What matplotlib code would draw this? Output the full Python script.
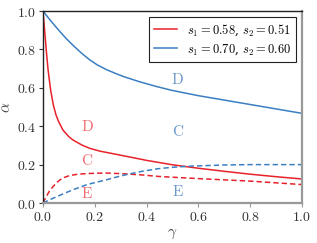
import matplotlib
matplotlib.use('Agg')
import matplotlib.pyplot as plt

plt.rcParams['mathtext.fontset'] = 'cm'
plt.rcParams['font.family'] = 'serif'
plt.rcParams['font.serif'] = ['DejaVu Serif']

RED = '#e8222b'
BLUE = '#3b7fc2'
RED_TXT = '#f06a70'
BLUE_TXT = '#6a98cc'

# red family: s1=0.58, s2=0.51
red_d_x = [0, 0.005, 0.01, 0.015, 0.02, 0.025, 0.03, 0.04, 0.05, 0.06, 0.077, 0.1, 0.116, 0.15, 0.18,
           0.22, 0.3, 0.4, 0.5, 0.6, 0.7, 0.8, 0.9, 1.0]
red_d_y = [1.0, 0.92, 0.84, 0.76, 0.69, 0.635, 0.585, 0.51, 0.46, 0.425, 0.38, 0.345, 0.328, 0.302, 0.285,
           0.27, 0.249, 0.222, 0.199, 0.181, 0.165, 0.150, 0.137, 0.125]
red_c_x = [0, 0.013, 0.025, 0.039, 0.052, 0.065, 0.08, 0.103, 0.13, 0.155, 0.2, 0.245, 0.3, 0.374, 0.45,
           0.6, 0.8, 1.0]
red_c_y = [0, 0.034, 0.062, 0.086, 0.105, 0.12, 0.132, 0.143, 0.149, 0.152, 0.155, 0.156, 0.153, 0.147, 0.138,
           0.127, 0.114, 0.096]

# blue family: s1=0.70, s2=0.60
blue_d_x = [0, 0.015, 0.033, 0.05, 0.066, 0.09, 0.117, 0.15, 0.18, 0.21, 0.246, 0.28, 0.31, 0.374, 0.44,
            0.5, 0.6, 0.7, 0.8, 0.9, 1.0]
blue_d_y = [1.0, 0.974, 0.944, 0.917, 0.892, 0.856, 0.82, 0.779, 0.746, 0.719, 0.694, 0.675, 0.659, 0.631, 0.606,
            0.586, 0.559, 0.536, 0.513, 0.490, 0.467]
blue_e_x = [0, 0.026, 0.05, 0.08, 0.116, 0.17, 0.245, 0.3, 0.374, 0.44, 0.5, 0.57, 0.7, 0.8, 0.9, 1.0]
blue_e_y = [0, 0.017, 0.031, 0.049, 0.069, 0.096, 0.121, 0.141, 0.163, 0.178, 0.186, 0.192, 0.198, 0.2, 0.2, 0.2]

fig = plt.figure(figsize=(3.17, 2.43), dpi=100)
ax = fig.add_axes([0.1356, 0.1646, 0.8171, 0.7901])

ax.plot(red_d_x, red_d_y, color=RED, lw=1.1, label=r'$s_1 = 0.58$, $s_2 = 0.51$')
ax.plot(blue_d_x, blue_d_y, color=BLUE, lw=1.1, label=r'$s_1 = 0.70$, $s_2 = 0.60$')
ax.plot(red_c_x, red_c_y, color=RED, lw=1.1, ls=(0, (3.5, 2)))
ax.plot(blue_e_x, blue_e_y, color=BLUE, lw=1.1, ls=(0, (3.5, 2)))

# region labels
for x, y, s, c in [(0.17, 0.40, 'D', RED_TXT), (0.17, 0.22, 'C', RED_TXT), (0.17, 0.05, 'E', RED_TXT),
                   (0.52, 0.645, 'D', BLUE_TXT), (0.52, 0.375, 'C', BLUE_TXT), (0.52, 0.06, 'E', BLUE_TXT)]:
    ax.text(x, y, r'$\mathrm{%s}$' % s, color=c, fontsize=11, ha='center', va='center')

ticks = [0, 0.2, 0.4, 0.6, 0.8, 1.0]
ticklabels = [r'$%.1f$' % t for t in ticks]
ax.set_xlim(0, 1)
ax.set_ylim(0, 1)
ax.set_xticks(ticks)
ax.set_yticks(ticks)
ax.set_xticklabels(ticklabels)
ax.set_yticklabels(ticklabels)
ax.tick_params(labelsize=10, length=3, width=0.8, pad=2, labelcolor='#333333', color='#333333')
ax.tick_params(axis='x', color='#999999')
for s in ['left', 'top']:
    ax.spines[s].set_color('#222222')
    ax.spines[s].set_linewidth(1.0)
for s in ['right', 'bottom']:
    ax.spines[s].set_color('#999999')
    ax.spines[s].set_linewidth(1.6)

ax.set_xlabel(r'$\gamma$', fontsize=11, color='#444444', labelpad=2)
ax.set_ylabel(r'$\alpha$', fontsize=11, color='#444444')
ax.yaxis.set_label_coords(-0.115, 0.5)

leg = ax.legend(loc='upper right', fontsize=9, fancybox=False, edgecolor='#222222',
                framealpha=1, handlelength=1.8, borderaxespad=0.5, labelspacing=0.35)
leg.get_frame().set_linewidth(0.8)

fig.savefig('out.png', dpi=100)
